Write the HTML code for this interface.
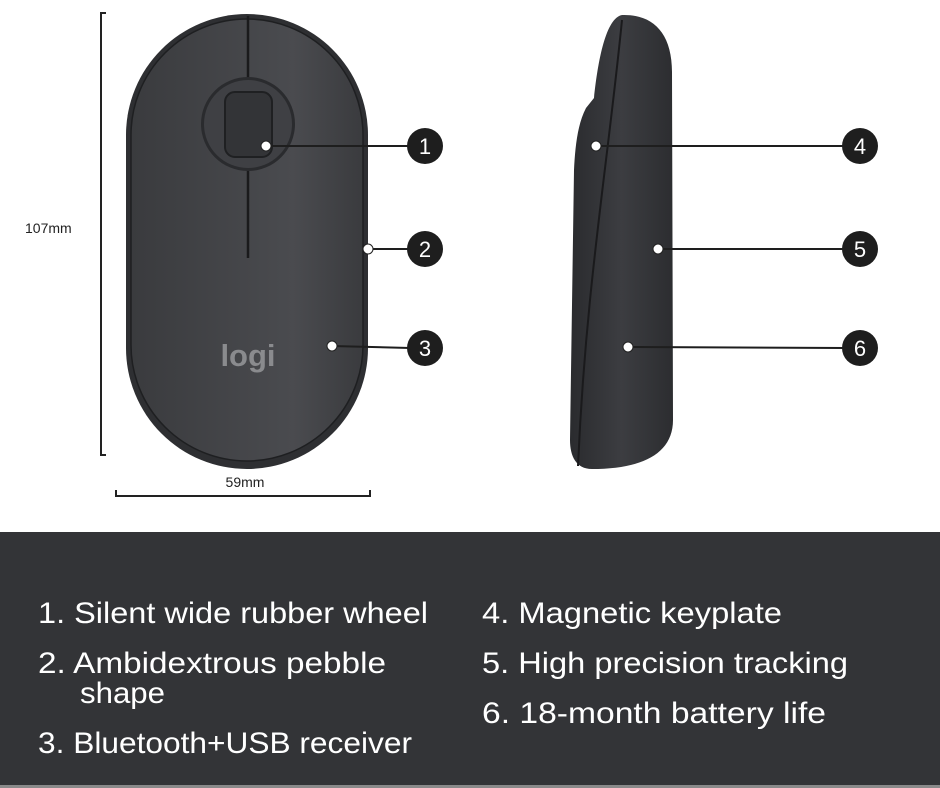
<!DOCTYPE html>
<html><head><meta charset="utf-8"><style>
html,body{margin:0;padding:0;background:#fff;}
svg{display:block;}
</style></head><body>
<svg width="940" height="788" viewBox="0 0 940 788" xmlns="http://www.w3.org/2000/svg" font-family="Liberation Sans, sans-serif">
<defs>
<linearGradient id="g1" x1="0" x2="1" y1="0" y2="0">
<stop offset="0" stop-color="#3a3b3e"/><stop offset="0.7" stop-color="#4a4b4f"/><stop offset="1" stop-color="#3a3b3e"/>
</linearGradient>
<linearGradient id="g2" x1="0" x2="1" y1="0" y2="0">
<stop offset="0" stop-color="#2a2b2e"/><stop offset="0.5" stop-color="#3c3d41"/><stop offset="1" stop-color="#2c2d30"/>
</linearGradient>
</defs>
<rect width="940" height="788" fill="#fff"/>
<path d="M106 13 H101 V455 H106" fill="none" stroke="#222" stroke-width="2"/>
<text x="25" y="233" font-size="14" fill="#222">107mm</text>
<path d="M116 490 V496 H370 V490" fill="none" stroke="#222" stroke-width="2"/>
<text x="245" y="487" font-size="14" fill="#222" text-anchor="middle">59mm</text>
<rect x="126" y="14" width="242" height="455" rx="121" fill="#2e2f32"/>
<rect x="131" y="19" width="232" height="442" rx="116" fill="url(#g1)" stroke="#1e1f21" stroke-width="1.5"/>
<line x1="248" y1="16" x2="248" y2="258" stroke="#1a1a1c" stroke-width="2.5"/>
<circle cx="248" cy="124" r="47" fill="#2a2b2e"/>
<circle cx="248" cy="124" r="44" fill="#3f4044"/>
<rect x="225" y="92" width="47" height="65" rx="10" fill="#333437" stroke="#1f2022" stroke-width="2"/>
<text x="248" y="366" font-size="31" fill="#8a8b8e" text-anchor="middle" font-weight="bold">logi</text>
<path d="M622 15 C652 14 672 32 672 72 L673 420 C673 455 640 469 592 469 C576 469 570 456 570 440 L574 170 C575 150 577 125 586 108 L594 98 C598 60 606 18 622 15 Z" fill="url(#g2)"/>
<path d="M622 20 C612 120 600 200 590 300 C584 360 580 420 578 466" fill="none" stroke="#1a1a1c" stroke-width="2"/>
<g stroke="#1e1e1e" stroke-width="2">
<line x1="266" y1="146" x2="410" y2="146"/>
<line x1="368" y1="249" x2="410" y2="249"/>
<line x1="332" y1="346" x2="410" y2="348"/>
<line x1="596" y1="146" x2="845" y2="146"/>
<line x1="658" y1="249" x2="845" y2="249"/>
<line x1="628" y1="347" x2="845" y2="348"/>
</g>
<g fill="#fff" stroke="#222" stroke-width="1">
<circle cx="266" cy="146" r="5"/><circle cx="368" cy="249" r="5"/><circle cx="332" cy="346" r="5"/>
<circle cx="596" cy="146" r="5"/><circle cx="658" cy="249" r="5"/><circle cx="628" cy="347" r="5"/>
</g>
<g fill="#1e1e1e">
<circle cx="425" cy="146" r="18"/><circle cx="425" cy="249" r="18"/><circle cx="425" cy="348" r="18"/>
<circle cx="860" cy="146" r="18"/><circle cx="860" cy="249" r="18"/><circle cx="860" cy="348" r="18"/>
</g>
<g fill="#fff" font-size="22" text-anchor="middle">
<text x="425" y="154">1</text><text x="425" y="257">2</text><text x="425" y="356">3</text>
<text x="860" y="154">4</text><text x="860" y="257">5</text><text x="860" y="356">6</text>
</g>
<rect x="0" y="532" width="940" height="256" fill="#333437"/>
<rect x="0" y="785" width="940" height="3" fill="#8a8a8a"/>
<g fill="#fff" font-size="30">
<text x="38" y="623" textLength="390" lengthAdjust="spacingAndGlyphs">1.  Silent wide rubber wheel</text>
<text x="38" y="673" textLength="348" lengthAdjust="spacingAndGlyphs">2.  Ambidextrous pebble</text>
<text x="80" y="703" textLength="85" lengthAdjust="spacingAndGlyphs">shape</text>
<text x="38" y="753" textLength="374" lengthAdjust="spacingAndGlyphs">3.  Bluetooth+USB receiver</text>
<text x="482" y="623" textLength="300" lengthAdjust="spacingAndGlyphs">4. Magnetic keyplate</text>
<text x="482" y="673" textLength="366" lengthAdjust="spacingAndGlyphs">5. High precision tracking</text>
<text x="482" y="723" textLength="344" lengthAdjust="spacingAndGlyphs">6. 18-month battery life</text>
</g>
</svg>
</body></html>
